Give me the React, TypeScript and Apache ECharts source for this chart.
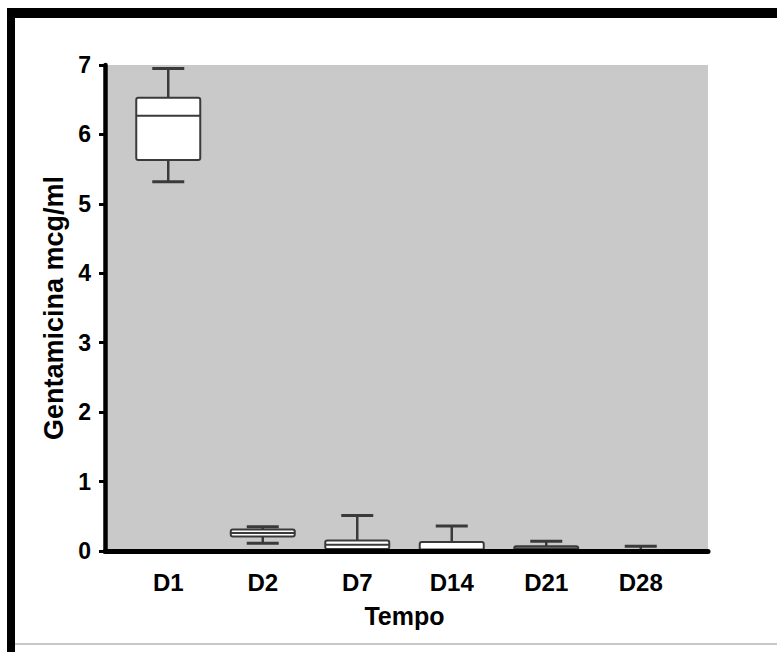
import React, { useEffect, useRef } from "react";
import * as echarts from "echarts";

const categories = ["D1", "D2", "D7", "D14", "D21", "D28"];
const minValues = [5.32, 0.11, 0, 0, 0, 0];
const q1Values = [5.63, 0.21, 0.03, 0, 0.01, 0];
const medianValues = [6.27, 0.26, 0.09, 0.02, 0.04, 0];
const q3Values = [6.53, 0.31, 0.15, 0.13, 0.07, 0.01];
const maxValues = [6.95, 0.35, 0.51, 0.36, 0.14, 0.07];
const yMin = 0;
const yMax = 7;
const yInterval = 1;
const yTitle = "Gentamicina mcg/ml";
const xTitle = "Tempo";

const FONT = "'Liberation Sans Narrow', 'Liberation Sans', Arial, sans-serif";

export default function App() {
  const ref = useRef<HTMLDivElement>(null);

  useEffect(() => {
    if (!ref.current) return;
    const chart = echarts.init(ref.current, null, { renderer: "svg" });
    const data = categories.map((_, i) => [
      i,
      minValues[i],
      q1Values[i],
      medianValues[i],
      q3Values[i],
      maxValues[i],
    ]);
    const stroke = "#3a3a3a";
    const option: any = {
      animation: false,
      backgroundColor: "#ffffff",
      grid: [
        {
          left: 105,
          top: 65,
          width: 603,
          height: 486,
          show: true,
          backgroundColor: "#c9c9c9",
          borderWidth: 0,
        },
        {
          left: 121,
          top: 65,
          width: 567,
          height: 486,
        },
      ],
      xAxis: [
        {
          gridIndex: 0,
          type: "value",
          min: 0,
          max: 1,
          z: 5,
          axisLine: { show: true, onZero: false, lineStyle: { color: "#000", width: 5 } },
          axisTick: { show: false },
          axisLabel: { show: false },
          splitLine: { show: false },
        },
        {
          gridIndex: 1,
          type: "category",
          data: categories,
          axisLine: { show: false },
          axisTick: { show: false },
          axisLabel: {
            margin: 19,
            color: "#000",
            fontFamily: FONT,
            fontWeight: "bold",
            fontSize: 24,
          },
          name: xTitle,
          nameLocation: "middle",
          nameGap: 52,
          nameTextStyle: {
            color: "#000",
            fontFamily: FONT,
            fontWeight: "bold",
            fontSize: 25,
          },
        },
      ],
      yAxis: [
        {
          gridIndex: 0,
          type: "value",
          min: yMin,
          max: yMax,
          interval: yInterval,
          z: 5,
          axisLine: { show: true, lineStyle: { color: "#000", width: 4.5 } },
          axisTick: { show: true, length: 6, lineStyle: { color: "#000", width: 3 } },
          axisLabel: {
            margin: 14,
            color: "#000",
            fontFamily: FONT,
            fontWeight: "bold",
            fontSize: 23,
          },
          splitLine: { show: false },
          name: yTitle,
          nameLocation: "middle",
          nameGap: 38,
          nameTextStyle: {
            color: "#000",
            fontFamily: FONT,
            fontWeight: "bold",
            fontSize: 27,
          },
        },
        {
          gridIndex: 1,
          type: "value",
          min: yMin,
          max: yMax,
          interval: yInterval,
          show: false,
        },
      ],
      series: [
        {
          type: "custom",
          xAxisIndex: 1,
          yAxisIndex: 1,
          clip: false,
          z: 2,
          encode: { x: 0, y: [1, 2, 3, 4, 5] },
          data,
          renderItem: (params: any, api: any) => {
            const idx = api.value(0);
            const p = (v: number) => api.coord([idx, v]);
            const x = p(api.value(1))[0];
            const yMinP = p(api.value(1))[1];
            const yQ1 = p(api.value(2))[1];
            const yMed = p(api.value(3))[1];
            const yQ3 = p(api.value(4))[1];
            const yMaxP = p(api.value(5))[1];
            const bw = 64;
            const cw = 32;
            return {
              type: "group",
              children: [
                { type: "line", shape: { x1: x, y1: yMaxP, x2: x, y2: yQ3 }, style: { stroke, lineWidth: 2.5 } },
                { type: "line", shape: { x1: x, y1: yQ1, x2: x, y2: yMinP }, style: { stroke, lineWidth: 2.5 } },
                { type: "line", shape: { x1: x - cw / 2, y1: yMaxP, x2: x + cw / 2, y2: yMaxP }, style: { stroke, lineWidth: 3 } },
                { type: "line", shape: { x1: x - cw / 2, y1: yMinP, x2: x + cw / 2, y2: yMinP }, style: { stroke, lineWidth: 3 } },
                {
                  type: "rect",
                  shape: { x: x - bw / 2, y: yQ3, width: bw, height: Math.max(yQ1 - yQ3, 1), r: 2 },
                  style: { fill: "#ffffff", stroke, lineWidth: 2 },
                },
                { type: "line", shape: { x1: x - bw / 2, y1: yMed, x2: x + bw / 2, y2: yMed }, style: { stroke, lineWidth: 2 } },
              ],
            };
          },
        },
      ],
      graphic: [
        { type: "rect", shape: { x: 7, y: 9, width: 8, height: 643 }, style: { fill: "#000" }, silent: true },
        { type: "rect", shape: { x: 7, y: 8, width: 770, height: 10 }, style: { fill: "#000" }, silent: true },
        { type: "rect", shape: { x: 15, y: 643, width: 762, height: 2 }, style: { fill: "#c8c8c8" }, silent: true },
      ],
    };
    chart.setOption(option);
    return () => chart.dispose();
  }, []);

  return (
    <div
      ref={ref}
      style={{ position: "absolute", left: 0, top: 0, width: 777, height: 652, background: "#fff" }}
    />
  );
}
